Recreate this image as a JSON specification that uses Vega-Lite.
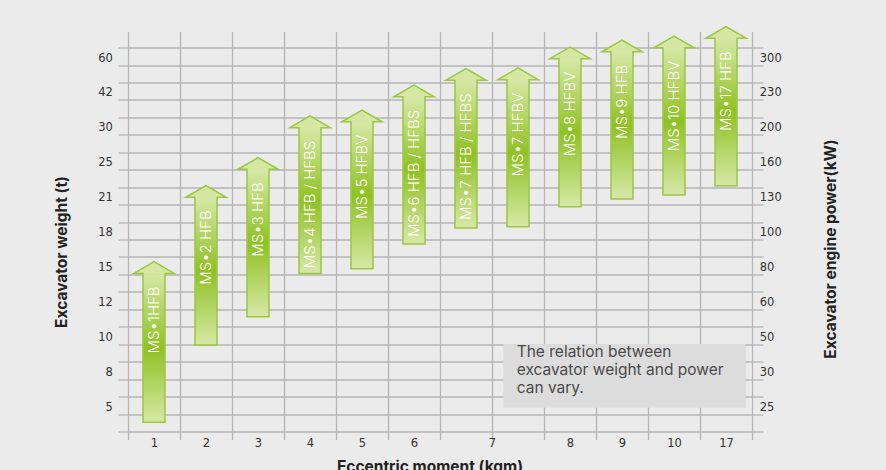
{
  "$schema": "https://vega.github.io/schema/vega-lite/v6.json",
  "width": 624,
  "height": 400,
  "autosize": "none",
  "padding": {"left": 128, "top": 31.5, "right": 134, "bottom": 38.5},
  "background": "#ebebeb",
  "config": {
    "view": {"stroke": null},
    "axis": {
      "domain": false,
      "labelFont": "DejaVu Sans",
      "labelFontSize": 11.5,
      "labelColor": "#333333",
      "labelOverlap": false,
      "labelBound": false,
      "labelFlush": false,
      "gridColor": "#b4b4b6",
      "gridWidth": 1.3,
      "tickColor": "#b4b4b6",
      "tickWidth": 1.3,
      "titleFont": "Inter",
      "titleFontWeight": "bold",
      "titleFontSize": 15.5,
      "titleColor": "#222222"
    }
  },
  "data": {
    "values": [
      {"model": "MS•1HFB", "col": 0.5, "lo": 0.53, "hi": 9.06},
      {"model": "MS•2 HFB", "col": 1.5, "lo": 4.96, "hi": 13.42},
      {"model": "MS•3 HFB", "col": 2.5, "lo": 6.58, "hi": 15.02},
      {"model": "MS•4 HFB / HFBS", "col": 3.5, "lo": 9.05, "hi": 17.41},
      {"model": "MS•5 HFBV", "col": 4.5, "lo": 9.33, "hi": 17.75},
      {"model": "MS•6 HFB / HFBS", "col": 5.5, "lo": 10.74, "hi": 19.18},
      {"model": "MS•7 HFB / HFBS", "col": 6.5, "lo": 11.66, "hi": 20.12},
      {"model": "MS•7 HFBV", "col": 7.5, "lo": 11.73, "hi": 20.16},
      {"model": "MS•8 HFBV", "col": 8.5, "lo": 12.88, "hi": 21.36},
      {"model": "MS•9 HFB", "col": 9.5, "lo": 13.32, "hi": 21.76},
      {"model": "MS•10 HFBV", "col": 10.5, "lo": 13.55, "hi": 21.99},
      {"model": "MS•17 HFB", "col": 11.5, "lo": 14.08, "hi": 22.53}
    ]
  },
  "layer": [
    {
      "mark": {
        "type": "bar",
        "width": 22,
        "fill": {
          "gradient": "linear",
          "x1": 0, "y1": 0, "x2": 0, "y2": 1,
          "stops": [
            {"offset": 0, "color": "#d6e8a6"},
            {"offset": 0.5, "color": "#8fc123"},
            {"offset": 1, "color": "#d6e8a6"}
          ]
        },
        "stroke": "#9dc643",
        "strokeWidth": 1.5
      },
      "encoding": {
        "x": {
          "field": "col", "type": "quantitative",
          "scale": {"domain": [0, 12], "nice": false, "zero": false, "padding": 0},
          "axis": {
            "orient": "bottom",
            "values": [0,1,2,3,4,5,6,7,8,9,10,11,12],
            "grid": true, "ticks": true, "tickSize": 8, "labels": false,
            "title": "Eccentric moment (kgm)",
            "titleX": 301.5, "titleY": 39.5, "titleAlign": "center", "titleBaseline": "alphabetic"
          }
        },
        "y": {
          "field": "lo", "type": "quantitative",
          "scale": {"domain": [0, 22.92], "nice": false, "zero": false, "padding": 0},
          "axis": {
            "orient": "left",
            "values": [0,1,2,3,4,5,6,7,8,9,10,11,12,13,14,15,16,17,18,19,20,21,22],
            "grid": true, "ticks": true, "tickSize": 10,
            "labelPadding": 5.7, "labelOffset": -7, "labelBaseline": "middle",
            "labelExpr": "['','5','','8','','10','','12','','15','','18','','21','','25','','30','','42','','60',''][datum.value]",
            "title": "Excavator weight (t)",
            "titleAngle": 270, "titleX": -67, "titleY": 220, "titleAlign": "center", "titleBaseline": "middle"
          }
        },
        "y2": {"field": "hi"}
      }
    },
    {
      "mark": {
        "type": "point",
        "shape": "M-0.543,0.06L-0.543,0L-1,0L0,-0.578L1,0L0.543,0L0.543,0.06",
        "size": 1640,
        "filled": true,
        "fill": "#d5e7a3",
        "stroke": "#9dc643",
        "strokeWidth": 1.5,
        "opacity": 1
      },
      "encoding": {
        "x": {"field": "col", "type": "quantitative", "scale": {"domain": [0, 12], "nice": false, "zero": false, "padding": 0}, "axis": null},
        "y": {"field": "hi", "type": "quantitative", "scale": {"domain": [0, 22.92], "nice": false, "zero": false, "padding": 0}, "axis": null}
      }
    },
    {
      "mark": {
        "type": "text",
        "angle": 270,
        "align": "right",
        "baseline": "middle",
        "yOffset": 13,
        "font": "Inter",
        "fontSize": 15,
        "fontWeight": 300,
        "fill": "#ffffff"
      },
      "encoding": {
        "x": {
          "field": "col", "type": "quantitative",
          "scale": {"domain": [0, 12], "nice": false, "zero": false, "padding": 0},
          "axis": {
            "orient": "bottom",
            "values": [0.5,1.5,2.5,3.5,4.5,5.5,7,8.5,9.5,10.5,11.5],
            "grid": false, "ticks": false, "tickSize": 0, "labelPadding": 5.5,
            "labelExpr": "datum.value == 7 ? '7' : datum.value < 6 ? '' + (datum.value + 0.5) : datum.value == 8.5 ? '8' : datum.value == 9.5 ? '9' : datum.value == 10.5 ? '10' : '17'",
            "title": null
          }
        },
        "y": {
          "field": "hi", "type": "quantitative",
          "scale": {"domain": [0, 22.92], "nice": false, "zero": false, "padding": 0},
          "axis": {
            "orient": "right",
            "values": [0,1,2,3,4,5,6,7,8,9,10,11,12,13,14,15,16,17,18,19,20,21,22],
            "grid": false, "ticks": true, "tickSize": 11,
            "labelPadding": -3.7, "labelOffset": -7, "labelBaseline": "middle",
            "labelExpr": "['','25','','30','','50','','60','','80','','100','','130','','160','','200','','230','','300',''][datum.value]",
            "title": "Excavator  engine power(kW)",
            "titleAngle": 270, "titleX": 78.3, "titleY": 217, "titleAlign": "center", "titleBaseline": "middle"
          }
        },
        "text": {"field": "model"}
      }
    },
    {
      "data": {"values": [{"note": "The relation between excavator weight and power can vary."}]},
      "mark": {"type": "rect", "fill": "#dcdcdc"},
      "encoding": {
        "x": {"datum": 7.22, "type": "quantitative", "scale": {"domain": [0, 12], "nice": false, "zero": false, "padding": 0}, "axis": null},
        "x2": {"datum": 11.88},
        "y": {"datum": 1.36, "type": "quantitative", "scale": {"domain": [0, 22.92], "nice": false, "zero": false, "padding": 0}, "axis": null},
        "y2": {"datum": 5.01}
      }
    },
    {
      "data": {"values": [{"note": "The relation between excavator weight and power can vary."}]},
      "mark": {
        "type": "text",
        "align": "left",
        "baseline": "top",
        "font": "Inter",
        "fontSize": 15.5,
        "fontWeight": 400,
        "lineHeight": 17.8,
        "fill": "#4a4a4a"
      },
      "encoding": {
        "x": {"datum": 7.475, "type": "quantitative", "scale": {"domain": [0, 12], "nice": false, "zero": false, "padding": 0}, "axis": null},
        "y": {"datum": 4.96, "type": "quantitative", "scale": {"domain": [0, 22.92], "nice": false, "zero": false, "padding": 0}, "axis": null},
        "text": {"value": ["The relation between", "excavator weight and power", "can vary."]}
      }
    }
  ],
  "resolve": {"axis": {"x": "independent", "y": "independent"}}
}
